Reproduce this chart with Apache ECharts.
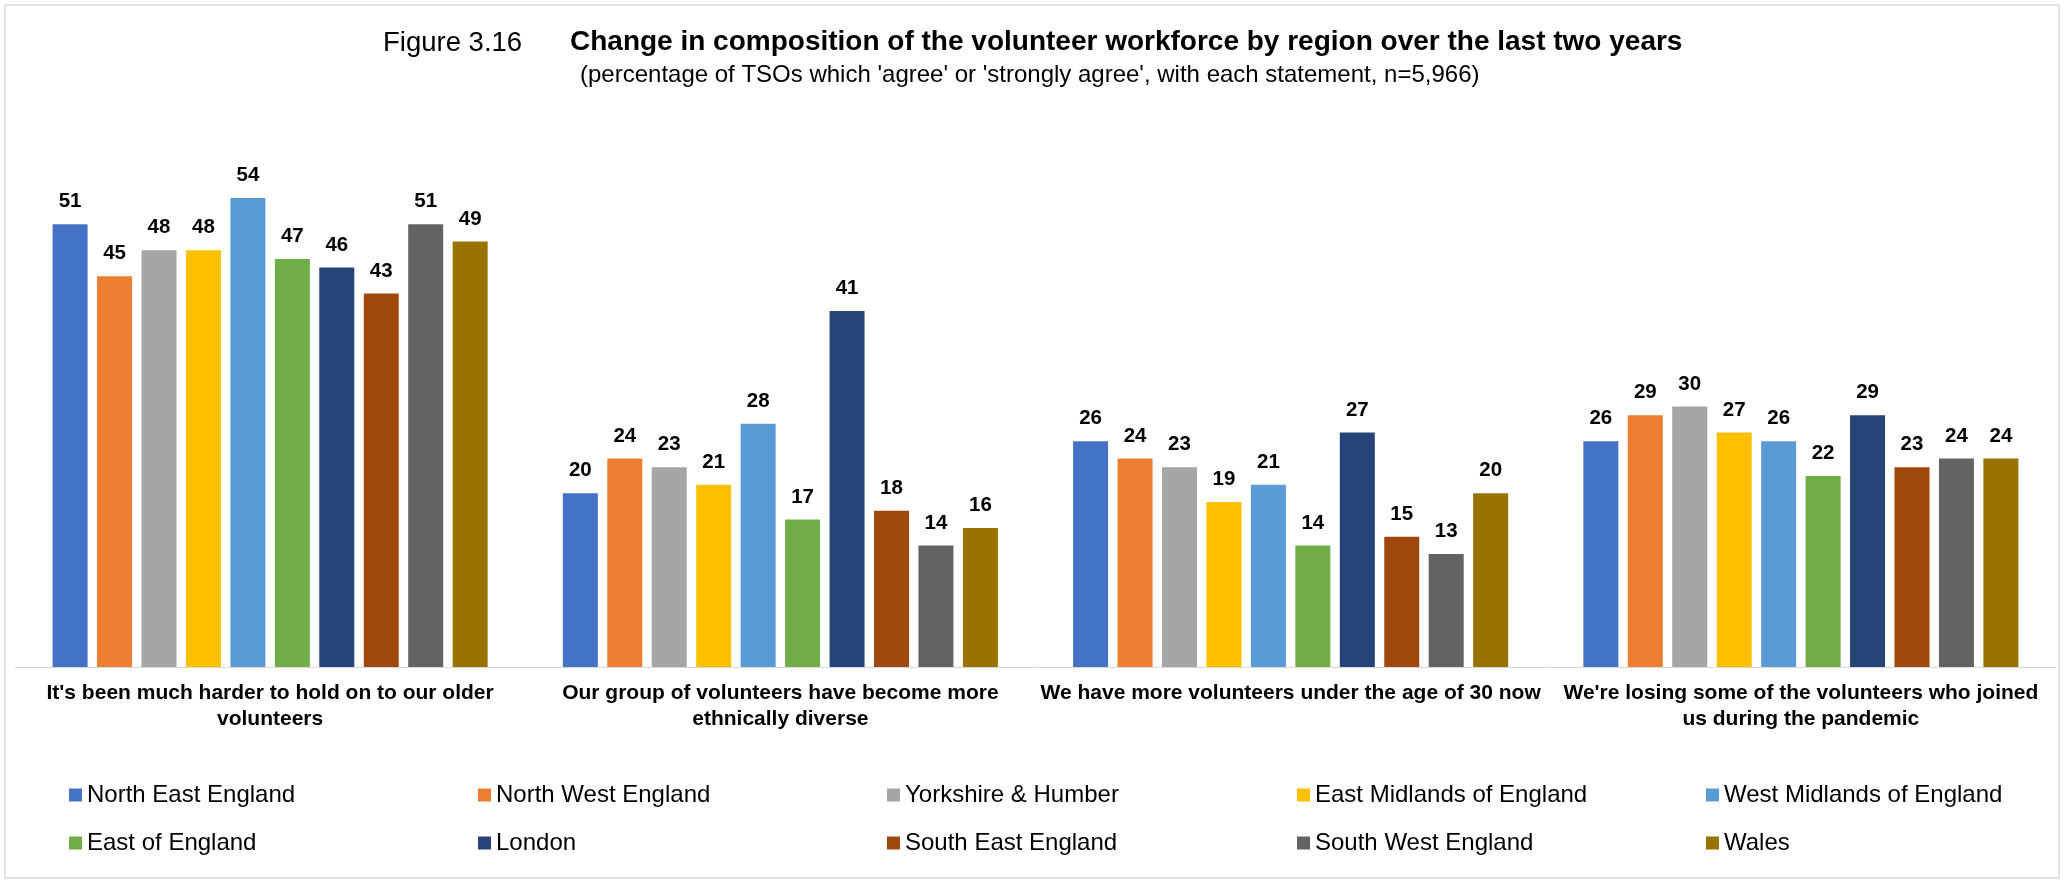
<!DOCTYPE html>
<html>
<head>
<meta charset="utf-8">
<script src="https://cdn.jsdelivr.net/npm/echarts@6/dist/echarts.min.js"></script>
<style>
  html, body { margin: 0; padding: 0; background: #fff; }
  #chart { width: 2065px; height: 883px; }
</style>
</head>
<body>
<div id="chart"></div>
<script>
// ---- Data ----
const categories = [
  "It's been much harder to hold on to our older\nvolunteers",
  "Our group of volunteers have become more\nethnically diverse",
  "We have more volunteers under the age of 30 now",
  "We're losing some of the volunteers who joined\nus during the pandemic"
];
const regions = [
  'North East England', 'North West England', 'Yorkshire & Humber',
  'East Midlands of England', 'West Midlands of England',
  'East of England', 'London', 'South East England',
  'South West England', 'Wales'
];
const northEast    = [51, 20, 26, 26];
const northWest    = [45, 24, 24, 29];
const yorkshire    = [48, 23, 23, 30];
const eastMidlands = [48, 21, 19, 27];
const westMidlands = [54, 28, 21, 26];
const eastEngland  = [47, 17, 14, 22];
const london       = [46, 41, 27, 29];
const southEast    = [43, 18, 15, 23];
const southWest    = [51, 14, 13, 24];
const wales        = [49, 16, 20, 24];
const seriesValues = [northEast, northWest, yorkshire, eastMidlands, westMidlands,
                      eastEngland, london, southEast, southWest, wales];

const figureLabel = 'Figure 3.16';
const titleText = 'Change in composition of the volunteer workforce by region over the last two years';
const subtitleText = "(percentage of TSOs which 'agree' or 'strongly agree', with each statement, n=5,966)";

// ---- Styles ----
const colors = ['#4472C4', '#ED7D31', '#A5A5A5', '#FFC000', '#5B9BD5',
                '#70AD47', '#264478', '#9E480E', '#636363', '#997300'];
const FONT = "'Liberation Sans', Arial, sans-serif";

const chart = echarts.init(document.getElementById('chart'), null, { renderer: 'canvas' });

const legendCols = [69, 478, 887, 1297, 1706];
const legendRows = [783, 831];
const legends = regions.map((r, i) => ({
  data: [r],
  left: legendCols[i % 5],
  top: legendRows[Math.floor(i / 5)],
  padding: 0,
  itemWidth: 13,
  itemHeight: 13,
  itemGap: 0,
  icon: 'rect',
  selectedMode: false,
  textStyle: { fontFamily: FONT, fontSize: 24, color: '#000' }
}));

const series = regions.map((r, i) => ({
  name: r,
  type: 'bar',
  data: seriesValues[i],
  barWidth: 35,
  barGap: '27%',
  itemStyle: { color: colors[i] },
  label: {
    show: true,
    position: 'top',
    distance: 12,
    fontFamily: FONT,
    fontSize: 20.5,
    fontWeight: 'bold',
    color: '#000'
  }
}));

chart.setOption({
  animation: false,
  backgroundColor: '#fff',
  color: colors,
  title: [
    { text: figureLabel, left: 383, top: 29, padding: 0,
      textStyle: { fontFamily: FONT, fontSize: 27.5, fontWeight: 'normal', color: '#000' } },
    { text: titleText, left: 570, top: 28, padding: 0,
      textStyle: { fontFamily: FONT, fontSize: 28, fontWeight: 'bold', color: '#000' } },
    { text: subtitleText, left: 580, top: 63, padding: 0,
      textStyle: { fontFamily: FONT, fontSize: 24, fontWeight: 'normal', color: '#000' } }
  ],
  legend: legends,
  grid: { left: 15, right: 9, top: 146, bottom: 216, containLabel: false },
  xAxis: {
    type: 'category',
    data: categories,
    axisLine: { show: true, lineStyle: { color: '#D9D9D9', width: 1 } },
    axisTick: { show: false },
    axisLabel: {
      interval: 0,
      margin: 13,
      fontFamily: FONT,
      fontSize: 21,
      fontWeight: 'bold',
      color: '#000',
      lineHeight: 26,
      align: 'center'
    }
  },
  yAxis: {
    type: 'value',
    min: 0,
    max: 60,
    interval: 10,
    show: false,
    splitLine: { show: false }
  },
  graphic: [{
    type: 'rect',
    shape: { x: 5, y: 5, width: 2054, height: 873 },
    style: { fill: 'none', stroke: '#D9D9D9', lineWidth: 1.5 },
    silent: true
  }],
  series: series
});
</script>
</body>
</html>
